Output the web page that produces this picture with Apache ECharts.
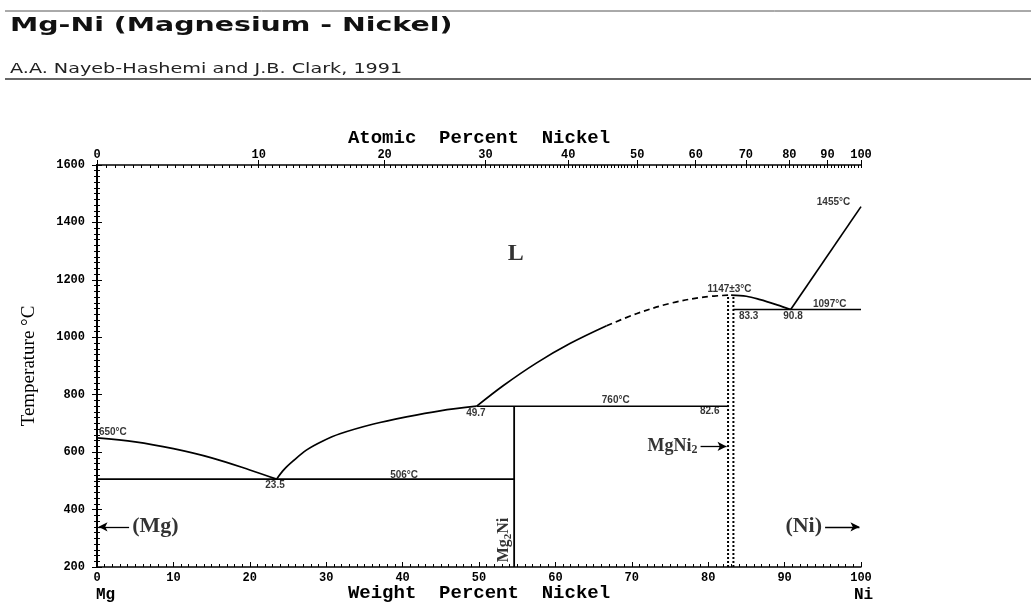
<!DOCTYPE html>
<html>
<head>
<meta charset="utf-8">
<script src="https://cdn.jsdelivr.net/npm/echarts@6/dist/echarts.min.js"></script>
<style>
  html, body { margin: 0; padding: 0; background: #fff; }
  #chart { width: 1031px; height: 603px; }
</style>
</head>
<body>
<div id="chart"></div>
<script>
// Mg-Ni binary phase diagram: temperature (°C) against weight percent nickel,
// with a secondary atomic-percent scale along the top edge.
const MG_MASS = 24.305;
const NI_MASS = 58.6934;

// Atomic-percent labels for the top scale
const atomicLabels = [0, 10, 20, 30, 40, 50, 60, 70, 80, 90, 100];

// Liquidus branches, [wt% Ni, °C]
const liquidusMg = [[0, 650], [5, 636], [10, 612], [15, 580], [20, 538], [23.5, 506]];
const liquidusMg2Ni = [[23.5, 506], [24.5, 540], [25.7, 570], [27.4, 607], [29.5, 638], [31.8, 664],
  [36.2, 698], [40.5, 723], [44.9, 744], [49.7, 760]];
const liquidusMgNi2 = [[49.7, 760], [53.2, 832], [57.5, 910], [61.9, 978], [66.7, 1040]];
const liquidusMgNi2Uncertain = [[66.7, 1040], [70.6, 1082], [75, 1118], [79.4, 1140], [82.9, 1147]];
const liquidusMgNi2Eut = [[83.0, 1147], [85, 1143], [86.8, 1131], [89, 1113], [90.8, 1097]];
const liquidusNi = [[90.8, 1097], [100, 1455]];

// Invariant reactions: [from wt%, to wt%, °C]
const eutecticMg = [0, 54.6, 506];
const peritectic = [49.7, 82.6, 760];
const eutecticNi = [83.3, 100, 1097];

// Intermetallic compounds, wt% Ni
const mg2ni = 54.6;
const mgni2Range = [82.6, 83.3];
const mgni2Melt = 1147;

const TEMP_MIN = 200;

function wtFromAt(at) {
  return 100 * at * NI_MASS / (at * NI_MASS + (100 - at) * MG_MASS);
}
const atomicLabelPos = atomicLabels.map(wtFromAt);
const atomicMinor = [];
for (let a = 0; a <= 100; a += (a < 50 ? 0.5 : 1)) atomicMinor.push(wtFromAt(a));

const ink = '#000';
const tickFont = { fontFamily: 'Liberation Mono', fontWeight: 'bold', fontSize: 12, color: ink };
const noteRich = {
  n: { fontFamily: 'Liberation Sans', fontWeight: 'bold', fontSize: 10, color: ink }
};
const phaseRich = {
  p: { fontFamily: 'Liberation Serif', fontWeight: 'bold', fontSize: 22, color: ink }
};
const mgni2Rich = {
  p: { fontFamily: 'Liberation Serif', fontWeight: 'bold', fontSize: 18, color: ink },
  sub: { fontFamily: 'Liberation Serif', fontWeight: 'bold', fontSize: 12, color: ink, padding: [8, 0, 0, 0] }
};
const mg2niRich = {
  p: { fontFamily: 'Liberation Serif', fontWeight: 'bold', fontSize: 16, color: ink },
  sub: { fontFamily: 'Liberation Serif', fontWeight: 'bold', fontSize: 11, color: ink, padding: [7, 0, 0, 0] }
};

function curve(data, dashed) {
  return {
    type: 'line', data: data, smooth: 0.35, showSymbol: false, silent: true,
    lineStyle: { color: ink, width: 1.7, type: dashed ? [6, 4] : 'solid' },
    z: 3
  };
}
function segment(data, style) {
  return {
    type: 'line', data: data, showSymbol: false, silent: true,
    lineStyle: Object.assign({ color: ink, width: 1.6 }, style || {}),
    z: 3
  };
}
function horiz(r) { return segment([[r[0], r[2]], [r[1], r[2]]]); }

function note(x, y, text, align) {
  return {
    value: [x, y],
    label: { show: true, position: 'inside', align: align || 'center', verticalAlign: 'middle',
      formatter: text, rich: noteRich }
  };
}

const notes = [
  note(0.25, 668, '{n|' + liquidusMg[0][1] + '°C}', 'left'),
  note(eutecticMg[0] + 23.3, 483, '{n|' + liquidusMg2Ni[0][0] + '}'),
  note(40.2, 520, '{n|' + eutecticMg[2] + '°C}'),
  note(peritectic[0] - 0.1, 737, '{n|' + peritectic[0] + '}'),
  note(67.9, 782, '{n|' + peritectic[2] + '°C}'),
  note(80.2, 742, '{n|' + peritectic[1] + '}'),
  note(82.8, 1168, '{n|' + mgni2Melt + '±3°C}'),
  note(85.3, 1074, '{n|' + eutecticNi[0] + '}'),
  note(liquidusNi[0][0] + 0.3, 1074, '{n|' + liquidusNi[0][0] + '}'),
  note(95.9, 1114, '{n|' + eutecticNi[2] + '°C}'),
  note(96.4, 1469, '{n|' + liquidusNi[1][1] + '°C}')
];

function phase(x, y, text, extra) {
  return {
    value: [x, y],
    label: Object.assign({ show: true, position: 'inside', formatter: text, rich: phaseRich }, extra || {})
  };
}
const phases = [
  phase(54.8, 1292, '{L|L}', { rich: { L: { fontFamily: 'Liberation Serif', fontWeight: 'bold', fontSize: 24, color: ink } } }),
  phase(4.6, 340, '{p|(Mg)}', { align: 'left' }),
  phase(94.9, 340, '{p|(Ni)}', { align: 'right' }),
  phase(78.6, 620, '{p|MgNi}{sub|2}', { align: 'right', rich: mgni2Rich }),
  phase(53.3, 294, '{p|Mg}{sub|2}{p|Ni}', { rotate: 90, rich: mg2niRich })
];

function arrow(from, to) {
  return [{ coord: from }, { coord: to }];
}

const chart = echarts.init(document.getElementById('chart'), null, { renderer: 'canvas' });

chart.setOption({
  animation: false,
  backgroundColor: '#fff',
  grid: { left: 97, right: 170, top: 165, bottom: 36, containLabel: false, outerBoundsMode: 'none' },
  graphic: [
    { type: 'line', shape: { x1: 5, y1: 11, x2: 1031, y2: 11 }, style: { stroke: '#555', lineWidth: 1 } },
    { type: 'text', x: 10, y: 16, scaleX: 1.42,
      style: { text: 'Mg-Ni (Magnesium - Nickel)', font: 'bold 20px "DejaVu Sans"', fill: '#111' } },
    { type: 'text', x: 10, y: 62, scaleX: 1.37,
      style: { text: 'A.A. Nayeb-Hashemi and J.B. Clark, 1991', font: '14px "DejaVu Sans"', fill: '#222' } },
    { type: 'line', shape: { x1: 5, y1: 79, x2: 1031, y2: 79 }, style: { stroke: '#333', lineWidth: 1.5 } },
    { type: 'text', x: 96, y: 587, style: { text: 'Mg', font: 'bold 16px "Liberation Mono"', fill: ink } },
    { type: 'text', x: 854, y: 587, style: { text: 'Ni', font: 'bold 16px "Liberation Mono"', fill: ink } }
  ],
  xAxis: [
    {
      type: 'value', position: 'bottom', min: 0, max: 100, interval: 10,
      name: 'Weight  Percent  Nickel', nameLocation: 'middle', nameGap: 17, nameMoveOverlap: false,
      nameTextStyle: { fontFamily: 'Liberation Mono', fontWeight: 'bold', fontSize: 19, color: ink },
      axisLine: { lineStyle: { color: ink, width: 1.5 } },
      axisTick: { inside: true, length: 5, lineStyle: { color: ink } },
      minorTick: { show: true, splitNumber: 10, length: 3, lineStyle: { color: ink } },
      splitLine: { show: false },
      axisLabel: Object.assign({ margin: 5 }, tickFont)
    },
    {
      type: 'value', position: 'top', min: 0, max: 100,
      name: 'Atomic  Percent  Nickel', nameLocation: 'middle', nameGap: 17, nameMoveOverlap: false,
      nameTextStyle: { fontFamily: 'Liberation Mono', fontWeight: 'bold', fontSize: 19, color: ink },
      axisLine: { lineStyle: { color: ink, width: 1.5 } },
      axisTick: { customValues: atomicLabelPos, inside: false, length: 5, lineStyle: { color: ink } },
      splitLine: { show: false },
      axisLabel: Object.assign({
        margin: 4,
        customValues: atomicLabelPos,
        formatter: function (v) {
          let best = 0;
          atomicLabelPos.forEach(function (p, i) { if (Math.abs(p - v) < Math.abs(atomicLabelPos[best] - v)) best = i; });
          return String(atomicLabels[best]);
        }
      }, tickFont)
    },
    {
      type: 'value', position: 'top', min: 0, max: 100,
      axisLine: { show: false },
      axisTick: { customValues: atomicMinor, inside: true, length: 3, lineStyle: { color: ink } },
      axisLabel: { show: false },
      splitLine: { show: false }
    }
  ],
  yAxis: [
    {
      type: 'value', position: 'left', min: TEMP_MIN, max: 1600, interval: 200,
      name: '{t|Temperature °C}', nameLocation: 'middle', nameGap: 58, nameRotate: 90,
      nameTextStyle: { rich: { t: { fontFamily: 'Liberation Serif', fontSize: 19, color: ink } } },
      axisLine: { lineStyle: { color: ink, width: 2 } },
      axisTick: { inside: false, length: 5, lineStyle: { color: ink } },
      minorTick: { show: true, splitNumber: 10, length: 3, lineStyle: { color: ink } },
      splitLine: { show: false },
      axisLabel: Object.assign({ margin: 12, formatter: function (v) { return String(v); } }, tickFont)
    },
    {
      type: 'value', position: 'right', min: TEMP_MIN, max: 1600, interval: 200,
      axisLine: { lineStyle: { color: ink, width: 2 } },
      axisTick: { inside: false, length: 5, lineStyle: { color: ink } },
      minorTick: { show: true, splitNumber: 10, length: 3, lineStyle: { color: ink } },
      splitLine: { show: false },
      axisLabel: { show: false }
    }
  ],
  series: [
    curve(liquidusMg),
    curve(liquidusMg2Ni),
    curve(liquidusMgNi2),
    curve(liquidusMgNi2Uncertain, true),
    curve(liquidusMgNi2Eut),
    segment(liquidusNi, { width: 1.7 }),
    horiz(eutecticMg),
    horiz(peritectic),
    horiz(eutecticNi),
    segment([[mg2ni, TEMP_MIN], [mg2ni, peritectic[2]]], { width: 1.8 }),
    segment([[mgni2Range[0], TEMP_MIN], [mgni2Range[0], mgni2Melt]], { width: 2, type: [2, 2] }),
    segment([[mgni2Range[1], TEMP_MIN], [mgni2Range[1], mgni2Melt]], { width: 2, type: [2, 2] }),
    {
      type: 'scatter', symbolSize: 0, silent: true, data: notes, z: 5
    },
    {
      type: 'scatter', symbolSize: 0, silent: true, data: phases, z: 5,
      markLine: {
        silent: true, symbol: ['none', 'arrow'], symbolSize: [7, 9],
        label: { show: false },
        lineStyle: { color: ink, width: 1.3, type: 'solid' },
        data: [
          arrow([4.2, 340], [0.2, 340]),
          arrow([95.3, 340], [99.8, 340]),
          arrow([79.0, 620], [82.4, 620])
        ]
      }
    }
  ]
});
</script>
</body>
</html>
